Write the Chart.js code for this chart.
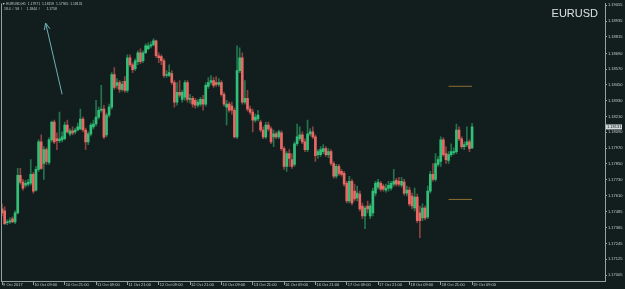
<!DOCTYPE html>
<html>
<head>
<meta charset="utf-8">
<script src="https://cdn.jsdelivr.net/npm/chart.js@4.4.1/dist/chart.umd.min.js"></script>
<style>
  html, body { margin: 0; padding: 0; background: #121e1e; overflow: hidden; }
</style>
</head>
<body>
<canvas id="candleChart" width="625" height="289"></canvas>
<script>
// --- Data (EURUSD H1, 9 Oct 2017 21:00 -> 19 Oct 09:00) ---
const symbol = 'EURUSD';
const timeframe = 'H1';

const opens = [
  1.17508, 1.17493, 1.17403, 1.17410, 1.17433, 1.17410, 1.17478, 1.17763, 1.17711, 1.17688,
  1.17696, 1.17703, 1.17771, 1.17651, 1.17808, 1.18018, 1.17853, 1.17958, 1.17861, 1.18033,
  1.18168, 1.18041, 1.18026, 1.18033, 1.18041, 1.18146, 1.18078, 1.18101, 1.18093, 1.18108,
  1.18116, 1.18191, 1.18108, 1.18018, 1.18078, 1.18131, 1.18153, 1.18206, 1.18258, 1.18266,
  1.18071, 1.18221, 1.18281, 1.18529, 1.18447, 1.18469, 1.18417, 1.18477, 1.18409, 1.18657,
  1.18604, 1.18574, 1.18627, 1.18695, 1.18634, 1.18695, 1.18725, 1.18747, 1.18755, 1.18785,
  1.18672, 1.18665, 1.18634, 1.18522, 1.18522, 1.18537, 1.18469, 1.18319, 1.18394, 1.18341,
  1.18357, 1.18469, 1.18341, 1.18349, 1.18334, 1.18296, 1.18304, 1.18341, 1.18304, 1.18439,
  1.18469, 1.18484, 1.18469, 1.18454, 1.18469, 1.18379, 1.18281, 1.18304, 1.18289, 1.18258,
  1.18056, 1.18559, 1.18657, 1.18319, 1.18349, 1.18266, 1.18244, 1.18183, 1.18191, 1.18168,
  1.18108, 1.18056, 1.18146, 1.18116, 1.18056, 1.18078, 1.18056, 1.18086, 1.17966, 1.17831,
  1.17928, 1.17883, 1.17846, 1.18003, 1.18041, 1.18071, 1.18018, 1.17958, 1.18078, 1.18093,
  1.18056, 1.17921, 1.17921, 1.17943, 1.17966, 1.17921, 1.17943, 1.17853, 1.17756, 1.17831,
  1.17793, 1.17778, 1.17703, 1.17568, 1.17718, 1.17643, 1.17591, 1.17621, 1.17530, 1.17455,
  1.17530, 1.17455, 1.17478, 1.17628, 1.17673, 1.17703, 1.17681, 1.17651, 1.17666, 1.17666,
  1.17696, 1.17726, 1.17718, 1.17688, 1.17711, 1.17628, 1.17651, 1.17606, 1.17515, 1.17598,
  1.17478, 1.17440, 1.17515, 1.17448, 1.17643, 1.17771, 1.17733, 1.17846, 1.17868, 1.18033,
  1.17928, 1.17876, 1.17921, 1.17936, 1.17943, 1.18108, 1.18041, 1.17981, 1.17996, 1.18018,
  1.17971
];
const highs = [
  1.17546, 1.17523, 1.17425, 1.17440, 1.17448, 1.17493, 1.17816, 1.17816, 1.17733, 1.17726,
  1.17733, 1.17883, 1.17786, 1.17831, 1.18033, 1.18071, 1.17981, 1.17973, 1.18048, 1.18176,
  1.18183, 1.18086, 1.18244, 1.18093, 1.18168, 1.18183, 1.18116, 1.18131, 1.18123, 1.18161,
  1.18266, 1.18206, 1.18123, 1.18093, 1.18161, 1.18183, 1.18334, 1.18281, 1.18447, 1.18296,
  1.18236, 1.18304, 1.18544, 1.18582, 1.18499, 1.18484, 1.18477, 1.18514, 1.18680, 1.18680,
  1.18619, 1.18649, 1.18710, 1.18725, 1.18710, 1.18762, 1.18770, 1.18777, 1.18800, 1.18792,
  1.18695, 1.18680, 1.18649, 1.18559, 1.18604, 1.18559, 1.18484, 1.18469, 1.18484, 1.18409,
  1.18484, 1.18484, 1.18379, 1.18364, 1.18349, 1.18341, 1.18357, 1.18372, 1.18469, 1.18507,
  1.18522, 1.18507, 1.18514, 1.18499, 1.18484, 1.18394, 1.18334, 1.18319, 1.18319, 1.18274,
  1.18747, 1.18732, 1.18695, 1.18484, 1.18409, 1.18289, 1.18266, 1.18229, 1.18258, 1.18183,
  1.18131, 1.18168, 1.18168, 1.18131, 1.18108, 1.18093, 1.18108, 1.18101, 1.17981, 1.17943,
  1.17958, 1.17928, 1.18018, 1.18153, 1.18131, 1.18093, 1.18041, 1.18183, 1.18116, 1.18131,
  1.18071, 1.17958, 1.17981, 1.17996, 1.17981, 1.17966, 1.17958, 1.17868, 1.17846, 1.17846,
  1.17808, 1.17793, 1.17718, 1.17756, 1.17733, 1.17696, 1.17681, 1.17643, 1.17553, 1.17530,
  1.17568, 1.17546, 1.17666, 1.17718, 1.17733, 1.17718, 1.17696, 1.17696, 1.17718, 1.17718,
  1.17808, 1.17741, 1.17748, 1.17748, 1.17733, 1.17681, 1.17673, 1.17628, 1.17666, 1.17621,
  1.17530, 1.17546, 1.17530, 1.17681, 1.17793, 1.17853, 1.17928, 1.17906, 1.18056, 1.18048,
  1.17981, 1.17943, 1.18003, 1.17973, 1.18153, 1.18131, 1.18056, 1.18018, 1.18131, 1.18033,
  1.18159
];
const lows = [
  1.17455, 1.17388, 1.17388, 1.17395, 1.17403, 1.17395, 1.17470, 1.17696, 1.17651, 1.17673,
  1.17681, 1.17688, 1.17628, 1.17643, 1.17793, 1.17808, 1.17733, 1.17846, 1.17846, 1.18018,
  1.18003, 1.17958, 1.18011, 1.18018, 1.18033, 1.18086, 1.18063, 1.18071, 1.18078, 1.18101,
  1.18108, 1.18093, 1.17958, 1.17996, 1.18063, 1.18116, 1.18138, 1.18191, 1.18244, 1.18041,
  1.18056, 1.18206, 1.18266, 1.18417, 1.18424, 1.18394, 1.18402, 1.18394, 1.18394, 1.18589,
  1.18544, 1.18559, 1.18604, 1.18612, 1.18619, 1.18687, 1.18717, 1.18732, 1.18747, 1.18657,
  1.18619, 1.18604, 1.18507, 1.18507, 1.18514, 1.18454, 1.18281, 1.18296, 1.18357, 1.18319,
  1.18334, 1.18319, 1.18311, 1.18281, 1.18274, 1.18281, 1.18289, 1.18258, 1.18289, 1.18424,
  1.18454, 1.18432, 1.18439, 1.18439, 1.18364, 1.18289, 1.18146, 1.18244, 1.18229, 1.18048,
  1.18041, 1.18544, 1.18304, 1.18304, 1.18251, 1.18229, 1.18093, 1.18168, 1.18176, 1.18093,
  1.18041, 1.18041, 1.18101, 1.18003, 1.17981, 1.18041, 1.18041, 1.17951, 1.17808, 1.17793,
  1.17831, 1.17816, 1.17831, 1.17988, 1.18026, 1.18003, 1.17943, 1.17943, 1.18063, 1.18041,
  1.17868, 1.17891, 1.17906, 1.17928, 1.17906, 1.17898, 1.17838, 1.17741, 1.17741, 1.17763,
  1.17756, 1.17681, 1.17553, 1.17553, 1.17538, 1.17568, 1.17568, 1.17493, 1.17433, 1.17358,
  1.17478, 1.17433, 1.17455, 1.17606, 1.17658, 1.17643, 1.17643, 1.17636, 1.17643, 1.17651,
  1.17681, 1.17681, 1.17681, 1.17673, 1.17613, 1.17606, 1.17530, 1.17508, 1.17493, 1.17403,
  1.17290, 1.17418, 1.17425, 1.17433, 1.17628, 1.17718, 1.17718, 1.17831, 1.17831, 1.17906,
  1.17853, 1.17853, 1.17906, 1.17921, 1.17928, 1.18026, 1.17966, 1.17958, 1.17981, 1.17943,
  1.17965
];
const closes = [
  1.17478, 1.17395, 1.17410, 1.17418, 1.17410, 1.17478, 1.17763, 1.17711, 1.17666, 1.17703,
  1.17711, 1.17771, 1.17643, 1.17808, 1.18018, 1.17816, 1.17958, 1.17868, 1.18033, 1.18168,
  1.18018, 1.18026, 1.18041, 1.18056, 1.18146, 1.18093, 1.18101, 1.18086, 1.18108, 1.18131,
  1.18191, 1.18108, 1.18018, 1.18078, 1.18146, 1.18153, 1.18206, 1.18258, 1.18266, 1.18056,
  1.18221, 1.18281, 1.18529, 1.18432, 1.18469, 1.18417, 1.18454, 1.18409, 1.18657, 1.18604,
  1.18567, 1.18634, 1.18695, 1.18627, 1.18695, 1.18747, 1.18747, 1.18755, 1.18785, 1.18672,
  1.18657, 1.18634, 1.18522, 1.18529, 1.18544, 1.18469, 1.18319, 1.18394, 1.18372, 1.18394,
  1.18469, 1.18341, 1.18349, 1.18304, 1.18296, 1.18319, 1.18341, 1.18304, 1.18447, 1.18469,
  1.18484, 1.18447, 1.18454, 1.18469, 1.18379, 1.18304, 1.18304, 1.18258, 1.18258, 1.18056,
  1.18559, 1.18657, 1.18319, 1.18349, 1.18266, 1.18244, 1.18183, 1.18206, 1.18221, 1.18108,
  1.18056, 1.18146, 1.18116, 1.18018, 1.18078, 1.18056, 1.18093, 1.17966, 1.17831, 1.17928,
  1.17891, 1.17831, 1.18003, 1.18056, 1.18071, 1.18018, 1.17958, 1.18078, 1.18093, 1.18056,
  1.17913, 1.17943, 1.17958, 1.17966, 1.17921, 1.17943, 1.17853, 1.17756, 1.17831, 1.17778,
  1.17771, 1.17696, 1.17568, 1.17718, 1.17553, 1.17583, 1.17628, 1.17508, 1.17455, 1.17515,
  1.17508, 1.17530, 1.17643, 1.17703, 1.17711, 1.17658, 1.17658, 1.17666, 1.17688, 1.17703,
  1.17718, 1.17696, 1.17696, 1.17718, 1.17628, 1.17651, 1.17546, 1.17530, 1.17598, 1.17418,
  1.17418, 1.17515, 1.17440, 1.17643, 1.17771, 1.17733, 1.17853, 1.17883, 1.18033, 1.17921,
  1.17883, 1.17921, 1.17943, 1.17943, 1.18108, 1.18041, 1.17981, 1.17996, 1.18018, 1.17966,
  1.18131
];

// one label every 12 bars
const xTickStep = 12;
const xTickLabels = [
  '9 Oct 2017', '10 Oct 09:00', '10 Oct 21:00', '11 Oct 09:00', '11 Oct 21:00',
  '12 Oct 09:00', '12 Oct 21:00', '13 Oct 09:00', '13 Oct 21:00', '16 Oct 09:00',
  '16 Oct 21:00', '17 Oct 09:00', '17 Oct 21:00', '18 Oct 09:00', '18 Oct 21:00',
  '19 Oct 09:00'
];
const yTickValues = [
  1.19055, 1.18935, 1.18815, 1.18690, 1.18570, 1.18450, 1.18330, 1.18210, 1.18090,
  1.17970, 1.17850, 1.17730, 1.17610, 1.17485, 1.17365, 1.17245, 1.17125, 1.17005
];

// indicator values shown in the sub-header, and its two level lines
const infoValues = ['18.4', '58', '1.1844', '1.1758'];
const levelPrices = [1.1844, 1.1758];
const levelBars = [171, 180];

// hand-drawn trend arrow (bar index, price)
const arrowTail = { x: 23.0, y: 1.18379 };
const arrowTip = { x: 16.7, y: 1.18920 };

// --- Colours ---
const BG = '#121e1e';
const FRAME = '#95a0a0';
const TEXT = '#c3cccc';
const UP_BODY = '#32c078';
const DOWN_BODY = '#e86864';
const UP_WICK = '#23744c';
const DOWN_WICK = '#8a4240';

const isUp = opens.map((o, i) => closes[i] >= o);
const wickData = highs.map((h, i) => ({ x: i, y: [lows[i], h] }));
const bodyData = opens.map((o, i) => ({ x: i, y: [o, closes[i]] }));

const smallFont = { family: "'Liberation Sans', Arial, sans-serif", size: 4 };

const bgPlugin = {
    id: 'mtBackground',
    beforeDraw(chart) {
        const ctx = chart.ctx;
        ctx.save();
        ctx.fillStyle = BG;
        ctx.fillRect(0, 0, chart.width, chart.height);
        ctx.restore();
    }
};

const overlayPlugin = {
    id: 'mtOverlay',
    afterDraw(chart) {
        const { ctx, chartArea, scales } = chart;
        ctx.save();

        // left frame line
        ctx.strokeStyle = FRAME;
        ctx.lineWidth = 1;
        ctx.beginPath();
        ctx.moveTo(chartArea.left + 0.5, chartArea.top);
        ctx.lineTo(chartArea.left + 0.5, chartArea.bottom);
        ctx.stroke();

        // arrow head on the trend line
        const pts = chart.getDatasetMeta(4).data;
        const tail = pts[0], tip = pts[1];
        const ang = Math.atan2(tip.y - tail.y, tip.x - tail.x);
        ctx.strokeStyle = '#6fb0b6';
        ctx.beginPath();
        [0.42, -0.42].forEach(d => {
            ctx.moveTo(tip.x, tip.y);
            ctx.lineTo(tip.x - 7 * Math.cos(ang + d), tip.y - 7 * Math.sin(ang + d));
        });
        ctx.stroke();

        // current price tag on the axis
        const last = closes[closes.length - 1];
        const py = scales.y.getPixelForValue(last);
        ctx.fillStyle = '#d4dada';
        ctx.fillRect(chartArea.right + 1, py - 2.5, 16, 5);
        ctx.fillStyle = '#0c1414';
        ctx.font = `4px ${smallFont.family}`;
        ctx.textAlign = 'left';
        ctx.textBaseline = 'middle';
        ctx.fillText(last.toFixed(5), chartArea.right + 2, py + 0.3);

        // header lines
        const n = opens.length - 1;
        ctx.fillStyle = TEXT;
        ctx.font = `3.4px ${smallFont.family}`;
        ctx.textBaseline = 'top';
        ctx.fillText('\u25BC ' + symbol + ',' + timeframe + '  ' +
            [opens[n], highs[n], lows[n], closes[n]].map(v => v.toFixed(5)).join('  '), 2, 2.5);
        ctx.fillText(infoValues[0] + '  /  ' + infoValues[1] + '  /     ' +
            infoValues[2] + '  /       ' + infoValues[3], 4, 7);

        // big symbol name
        ctx.fillStyle = '#dde3e3';
        ctx.font = "11px 'Liberation Sans', Arial, sans-serif";
        ctx.textAlign = 'right';
        ctx.textBaseline = 'alphabetic';
        ctx.fillText(symbol, 598, 16.5);

        ctx.restore();
    }
};

new Chart(document.getElementById('candleChart'), {
    type: 'bar',
    data: {
        datasets: [
            {
                label: 'wick',
                data: wickData,
                backgroundColor: isUp.map(u => u ? UP_WICK : DOWN_WICK),
                barThickness: 1,
                grouped: false,
                borderWidth: 0,
                order: 3
            },
            {
                label: 'body',
                data: bodyData,
                backgroundColor: isUp.map(u => u ? UP_BODY : DOWN_BODY),
                barThickness: 2,
                minBarLength: 1,
                grouped: false,
                borderWidth: 0,
                order: 2
            },
            {
                type: 'line',
                label: 'level high',
                data: levelBars.map(x => ({ x, y: levelPrices[0] })),
                borderColor: '#8c7030',
                borderWidth: 1,
                pointRadius: 0,
                order: 1
            },
            {
                type: 'line',
                label: 'level low',
                data: levelBars.map(x => ({ x, y: levelPrices[1] })),
                borderColor: '#8c7030',
                borderWidth: 1,
                pointRadius: 0,
                order: 1
            },
            {
                type: 'line',
                label: 'arrow',
                data: [arrowTail, arrowTip],
                borderColor: '#6fb0b6',
                borderWidth: 1,
                pointRadius: 0,
                clip: false,
                order: 0
            }
        ]
    },
    plugins: [bgPlugin, overlayPlugin],
    options: {
        responsive: false,
        devicePixelRatio: 1,
        animation: false,
        layout: { padding: { left: 1, top: 0, right: 0, bottom: 0 } },
        plugins: {
            legend: { display: false },
            tooltip: { enabled: false }
        },
        scales: {
            x: {
                type: 'linear',
                position: 'bottom',
                offset: false,
                min: -0.4,
                max: 230.9,
                afterBuildTicks: s => { s.ticks = xTickLabels.map((_, k) => ({ value: k * xTickStep })); },
                afterFit: s => { s.height = 8; },
                grid: { drawOnChartArea: false, offset: false, tickLength: 4, color: FRAME },
                border: { color: FRAME },
                ticks: {
                    autoSkip: false,
                    maxRotation: 0,
                    align: 'start',
                    padding: -3,
                    labelOffset: 1,
                    color: TEXT,
                    font: smallFont,
                    callback: (v, k) => xTickLabels[k]
                }
            },
            y: {
                type: 'linear',
                position: 'right',
                min: 1.1696,
                max: 1.1907,
                afterBuildTicks: s => { s.ticks = yTickValues.map(v => ({ value: v })); },
                afterFit: s => { s.width = 20; },
                grid: { drawOnChartArea: false, tickLength: 2, color: FRAME },
                border: { color: FRAME },
                ticks: {
                    autoSkip: false,
                    padding: 1,
                    color: TEXT,
                    font: smallFont,
                    callback: v => v.toFixed(5)
                }
            }
        }
    }
});
</script>
</body>
</html>
